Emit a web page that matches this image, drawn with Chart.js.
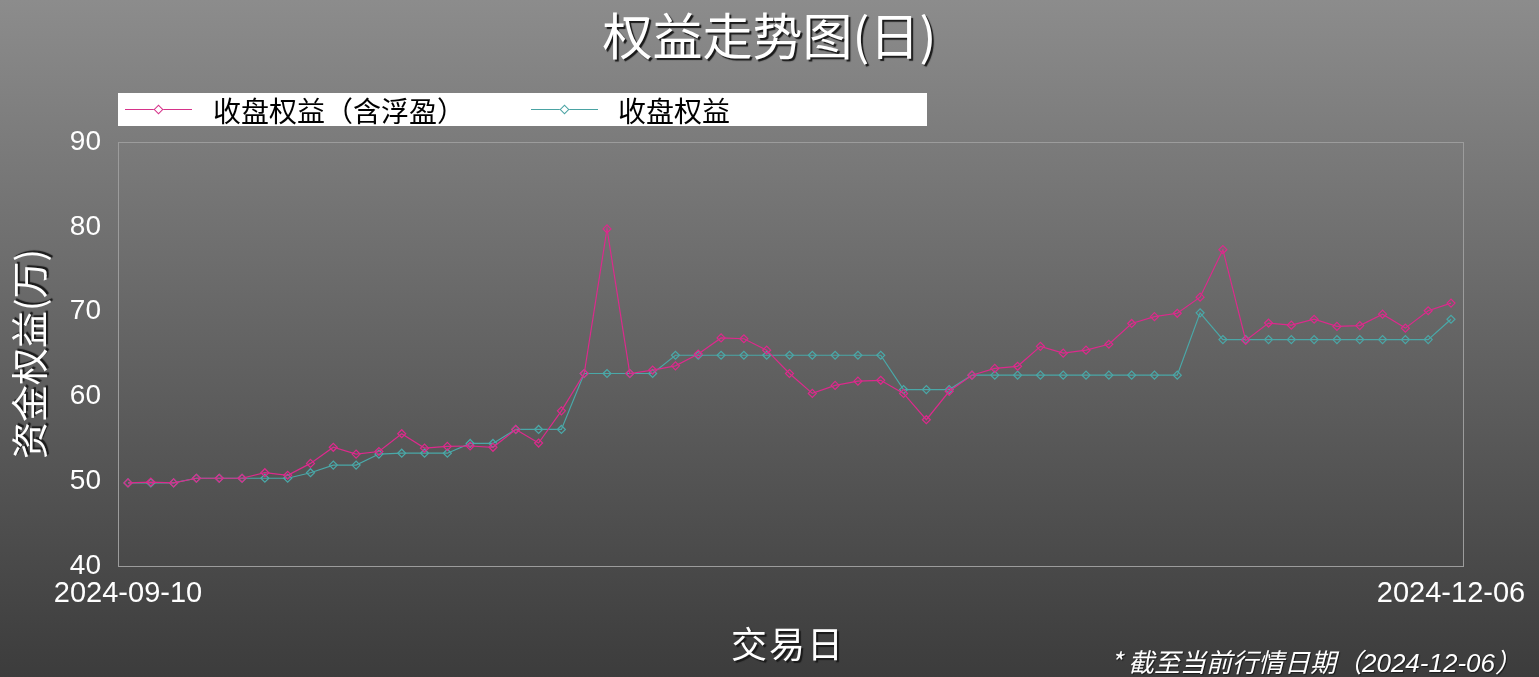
<!DOCTYPE html>
<html lang="zh">
<head>
<meta charset="UTF-8">
<title>权益走势图(日)</title>
<style>
  html, body { margin: 0; padding: 0; }
  body {
    width: 1539px; height: 677px; overflow: hidden; position: relative;
    background: linear-gradient(to bottom, #8c8c8c 0%, #3c3c3c 100%);
    font-family: "Noto Sans CJK SC", sans-serif;
  }
  #c { position: absolute; left: 0; top: 0; }
  .txt { position: absolute; color: #fff; text-shadow: 2px 2px 1px #1a1a1a; white-space: nowrap; }
  #title { left: 0; width: 1539px; top: 0px; text-align: center; font-size: 50px; line-height: 66px; }
  #ytitle { left: 28px; top: 354px; font-size: 37px; transform: translate(-50%, -50%) rotate(-90deg); }
  #xtitle { left: 788px; top: 642px; font-size: 36px; letter-spacing: 2px; transform: translate(-50%, -50%); }
  #note { right: 18px; top: 642px; font-size: 26px; font-style: italic; text-shadow: 1px 1px 1px #1a1a1a; }
  #note span { font-family: "Liberation Sans", sans-serif; }
  #legend { position: absolute; left: 118px; top: 93px; width: 809px; height: 33px; background: #fff; }
  .item { position: absolute; top: 0; height: 33px; }
  .item .ln { position: absolute; top: 16px; width: 67px; height: 1px; }
  .item .mk { position: absolute; top: 13px; left: 30px; width: 5px; height: 5px; background: #fff; transform: rotate(45deg); }
  .item .lb { position: absolute; top: -3px; font-size: 28px; color: #000; white-space: nowrap; }
</style>
</head>
<body>
<canvas id="c" width="1539" height="677"></canvas>
<div class="txt" id="title">权益走势图(日)</div>
<div id="legend">
  <div class="item" style="left:7px">
    <div class="ln" style="background:#d6338a"></div>
    <div class="mk" style="border:1px solid #d6338a"></div>
    <div class="lb" style="left:88px">收盘权益（含浮盈）</div>
  </div>
  <div class="item" style="left:413px">
    <div class="ln" style="background:#4aa3a3"></div>
    <div class="mk" style="border:1px solid #4aa3a3"></div>
    <div class="lb" style="left:87px">收盘权益</div>
  </div>
</div>
<div class="txt" id="ytitle">资金权益(万)</div>
<div class="txt" id="xtitle">交易日</div>
<div class="txt" id="note">* 截至当前行情日期（<span>2024-12-06</span>）</div>

<script src="https://cdn.jsdelivr.net/npm/chart.js"></script>
<script>
// trading days
var dates = [
  '2024-09-10','2024-09-11','2024-09-12','2024-09-13','2024-09-14','2024-09-18','2024-09-19','2024-09-20',
  '2024-09-23','2024-09-24','2024-09-25','2024-09-26','2024-09-27','2024-09-30',
  '2024-10-08','2024-10-09','2024-10-10','2024-10-11','2024-10-12','2024-10-14','2024-10-15','2024-10-16',
  '2024-10-17','2024-10-18','2024-10-21','2024-10-22','2024-10-23','2024-10-24','2024-10-25','2024-10-28',
  '2024-10-29','2024-10-30','2024-10-31',
  '2024-11-01','2024-11-04','2024-11-05','2024-11-06','2024-11-07','2024-11-08','2024-11-11','2024-11-12',
  '2024-11-13','2024-11-14','2024-11-15','2024-11-18','2024-11-19','2024-11-20','2024-11-21','2024-11-22',
  '2024-11-25','2024-11-26','2024-11-27','2024-11-28','2024-11-29',
  '2024-12-02','2024-12-03','2024-12-04','2024-12-05','2024-12-06'
];

// 收盘权益（含浮盈）
var equityFloat = [
  49.8, 49.9, 49.8, 50.35, 50.35, 50.35, 51.0, 50.7, 52.1, 54.0,
  53.2, 53.5, 55.6, 53.9, 54.1, 54.15, 54.0, 56.1, 54.5, 58.3,
  62.7, 79.75, 62.7, 63.1, 63.6, 65.0, 66.9, 66.8, 65.45, 62.7,
  60.35, 61.3, 61.8, 61.9, 60.35, 57.25, 60.6, 62.5, 63.3, 63.55,
  65.9, 65.1, 65.45, 66.15, 68.6, 69.4, 69.8, 71.7, 77.3, 66.6,
  68.65, 68.4, 69.1, 68.25, 68.35, 69.7, 68.05, 70.1, 71.0
];

// 收盘权益
var equityClose = [
  49.8, 49.8, 49.8, 50.35, 50.35, 50.35, 50.35, 50.35, 51.0, 51.9,
  51.9, 53.2, 53.3, 53.3, 53.3, 54.45, 54.45, 56.1, 56.1, 56.1,
  62.7, 62.7, 62.7, 62.7, 64.85, 64.85, 64.85, 64.85, 64.85, 64.85,
  64.85, 64.85, 64.85, 64.85, 60.8, 60.8, 60.8, 62.5, 62.5, 62.5,
  62.5, 62.5, 62.5, 62.5, 62.5, 62.5, 62.5, 69.85, 66.7, 66.7,
  66.7, 66.7, 66.7, 66.7, 66.7, 66.7, 66.7, 66.7, 69.1
];

var yTicks = [40, 50, 60, 70, 80, 90];

// frame around plot area (a bit wider than the point span)
var frame = {
  id: 'frame',
  beforeDatasetsDraw(chart) {
    var a = chart.chartArea, ctx = chart.ctx;
    ctx.save();
    ctx.strokeStyle = '#9c9c9c';
    ctx.lineWidth = 1;
    ctx.strokeRect(Math.round(a.left - 10) + 0.5, Math.round(a.top) + 0.5,
                   Math.round(a.right - a.left + 22), Math.round(a.bottom - a.top));
    ctx.restore();
  }
};

new Chart(document.getElementById('c'), {
  type: 'line',
  data: {
    labels: dates,
    datasets: [{
      label: '收盘权益（含浮盈）',
      data: equityFloat,
      borderColor: '#dc2a8c',
      backgroundColor: 'rgba(0,0,0,0)',
      borderWidth: 1.2,
      pointStyle: 'rectRot',
      pointRadius: 4,
      pointBorderWidth: 1.2,
      pointBorderColor: '#dc2a8c',
      pointBackgroundColor: 'rgba(0,0,0,0)',
      tension: 0
    }, {
      label: '收盘权益',
      data: equityClose,
      borderColor: '#4aa8a8',
      backgroundColor: 'rgba(0,0,0,0)',
      borderWidth: 1.2,
      pointStyle: 'rectRot',
      pointRadius: 4,
      pointBorderWidth: 1.2,
      pointBorderColor: '#4aa8a8',
      pointBackgroundColor: 'rgba(0,0,0,0)',
      tension: 0
    }]
  },
  options: {
    responsive: false,
    animation: false,
    layout: { padding: { top: 142, right: 88, bottom: 0, left: 0 } },
    plugins: {
      legend: { display: false },
      title: { display: false },
      tooltip: { enabled: false }
    },
    scales: {
      x: {
        offset: false,
        grid: { display: false, drawTicks: false },
        border: { display: false },
        ticks: {
          autoSkip: false,
          maxRotation: 0,
          padding: 11,
          color: '#fff',
          font: { family: 'Liberation Sans', size: 29 },
          callback: function (v, i) {
            return (i === 0 || i === dates.length - 1) ? dates[i] : '';
          }
        },
        afterFit: function (s) { s.height = 111; }
      },
      y: {
        min: 40,
        max: 90,
        grid: { display: false, drawTicks: false },
        border: { display: false },
        afterBuildTicks: function (s) { s.ticks = yTicks.map(function (v) { return { value: v }; }); },
        ticks: {
          padding: 27,
          color: '#fff',
          font: { family: 'Liberation Sans', size: 28 }
        },
        afterFit: function (s) { s.width = 128; }
      }
    }
  },
  plugins: [frame]
});
</script>
</body>
</html>
